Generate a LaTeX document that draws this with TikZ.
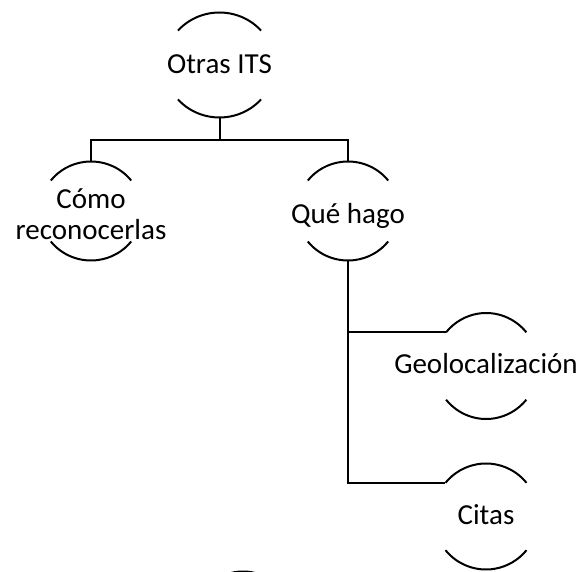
\documentclass[tikz,border=0pt]{standalone}
\usepackage{fontspec}
\setmainfont{Carlito}
\usetikzlibrary{shapes.geometric}
\newcommand\ringarcs[4]{%
  \coordinate (#1-L) at ([shift={(180-#4:#2pt and #3pt)}]#1.center);
  \draw[arcline] ([shift={(#4:#2pt and #3pt)}]#1.center) arc[start angle=#4, end angle=180-#4, x radius=#2pt, y radius=#3pt];
  \draw[arcline] ([shift={(180+#4:#2pt and #3pt)}]#1.center) arc[start angle=180+#4, end angle=360-#4, x radius=#2pt, y radius=#3pt];
}
\begin{document}
\begin{tikzpicture}[x=1pt,y=1pt,
  ring/.style={ellipse, draw=none, inner sep=0pt},
  lab/.style={anchor=base, inner sep=0pt, font=\fontsize{29}{31}\selectfont},
  conn/.style={line width=2pt},
  arcline/.style={line width=2pt}]
\useasboundingbox (0,0) rectangle (584,571);
\clip (0,0) rectangle (584,571);

\node[ring, minimum width=110pt, minimum height=105pt] (top) at (219.5,506) {};
\node[ring, minimum width=102pt, minimum height=99pt] (como) at (91,360) {};
\node[ring, minimum width=102pt, minimum height=99pt] (que) at (348,360) {};
\node[ring, minimum width=104pt, minimum height=106pt] (geo) at (486.2,205) {};
\node[ring, minimum width=105pt, minimum height=106pt] (citas) at (486,54.5) {};
\coordinate (more) at (243,-53.5);

\ringarcs{top}{55}{52.5}{41}
\ringarcs{como}{51}{49.5}{38}
\ringarcs{que}{51}{49.5}{38}
\ringarcs{geo}{52}{53}{39.5}
\ringarcs{citas}{52.5}{53}{39.5}
\ringarcs{more}{52}{53}{39.5}

\node[lab] (topT) at (219.5,497.7) {Otras ITS};
\node[lab] (comoT1) at (91,362.7) {Cómo};
\node[lab] (comoT2) at (91,331.7) {reconocerlas};
\node[lab] (queT) at (348,347) {Qué hago};
\node[lab] (geoT) at (486,197) {Geolocalización};
\node[lab] (citasT) at (486,47) {Citas};

\coordinate (bus) at (219.5,430.5);
\draw[conn] (top.south) -- (bus);
\draw[conn] (como.north) |- (bus) -| (que.north);
\draw[conn] (que.south) |- (citas-L);
\draw[conn] (que.south |- geo-L) -- (geo-L);
\end{tikzpicture}
\end{document}
